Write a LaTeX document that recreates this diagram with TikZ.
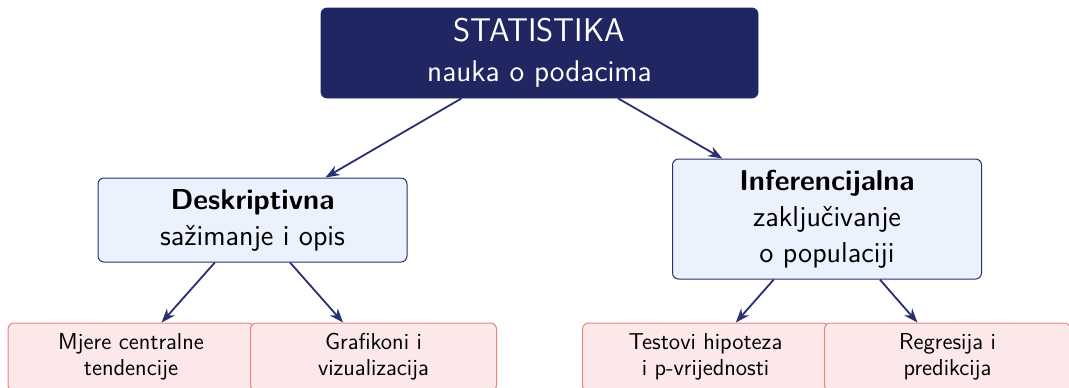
\documentclass[tikz,border=0pt]{standalone}
\usepackage{fontspec}
\usepackage{tikz}
\usetikzlibrary{arrows.meta, positioning}
\definecolor{statnavy}{RGB}{31, 38, 97}
\definecolor{arrownavy}{RGB}{40, 48, 112}
\definecolor{midblue}{RGB}{235, 242, 253}
\definecolor{leafpink}{RGB}{252, 232, 232}
\definecolor{leafred}{RGB}{238, 130, 125}

\begin{document}
\begin{tikzpicture}[>=Stealth, x=0.5pt, y=-0.5pt,
    rootbox/.style={fill=statnavy, draw=statnavy, rounded corners=3pt, text=white, align=center,
        minimum width=218.5pt, minimum height=45pt, font=\sffamily\fontsize{15}{20}\selectfont},
    branchbox/.style={fill=midblue, draw=arrownavy, line width=0.5pt, rounded corners=3pt, align=center,
        minimum width=154.5pt, font=\sffamily\fontsize{14.4}{18}\selectfont},
    leafbox/.style={fill=leafpink, draw=leafred, line width=0.5pt, rounded corners=3pt, align=center,
        minimum width=123pt, minimum height=34pt, font=\sffamily\fontsize{11.5}{13.2}\selectfont},
    link/.style={->, line width=0.9pt, arrownavy}]
    % Page frame
    \useasboundingbox (0,0) rectangle (1069,387);
    \clip (0,0) rectangle (1069,387);

    % Root
    \node[rootbox] (stat) at (539.5,53) {{\fontsize{16.4}{20}\selectfont STATISTIKA}\\nauka o podacima};

    % Two branches
    \node[branchbox, minimum height=42pt] (desk) at (252.5,220) {\textbf{Deskriptivna}\\sažimanje i opis};
    \node[branchbox, minimum height=60pt] (infer) at (827,219) {\textbf{Inferencijalna}\\zaključivanje\\o populaciji};

    % Leaves
    \node[leafbox] (mjere) at (131,357) {Mjere centralne\\tendencije};
    \node[leafbox] (graf) at (373.5,357) {Grafikoni i\\vizualizacija};
    \node[leafbox] (test) at (705.5,357) {Testovi hipoteza\\i p-vrijednosti};
    \node[leafbox] (regr) at (947.5,357) {Regresija i\\predikcija};

    % Connectors
    \draw[link] (stat) -- (desk);
    \draw[link] (stat) -- (infer);
    \draw[link] (desk) -- (mjere);
    \draw[link] (desk) -- (graf);
    \draw[link] (infer) -- (test);
    \draw[link] (infer) -- (regr);
\end{tikzpicture}
\end{document}
